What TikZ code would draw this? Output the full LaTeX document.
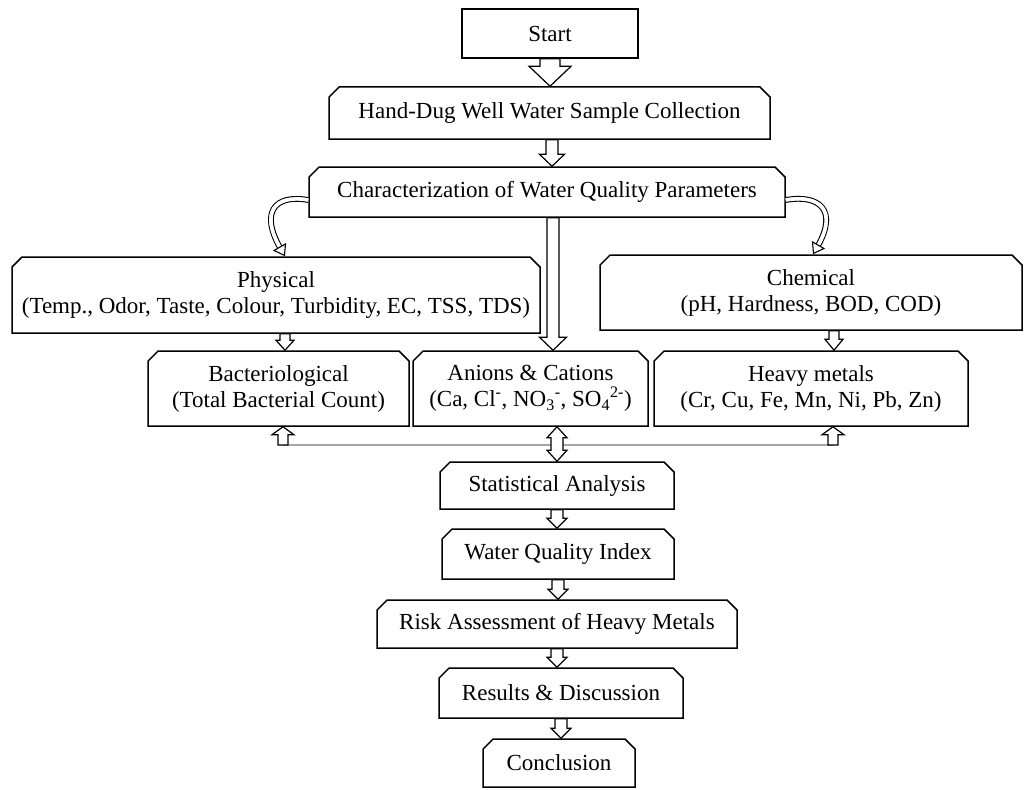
\documentclass[tikz,border=0pt]{standalone}
\usepackage{fontspec}
\setmainfont{Liberation Serif}
\usetikzlibrary{calc,shapes.misc,arrows.meta}

\tikzset{
  txt/.style={inner sep=0pt, align=center, font=\fontsize{23}{26}\selectfont},
  plain/.style={txt, draw, line width=1.5pt, rectangle},
  box/.style={txt, draw, line width=1.5pt, chamfered rectangle,
    chamfered rectangle corners={north west,north east}, chamfered rectangle xsep=7pt},
  blk/.style n args={3}{draw, fill=white, line width=1.2pt, to path={let \p1=(\tikztostart), \p2=(\tikztotarget),
    \n1={\y1>\y2 ? 1 : -1} in
    (\x1-#1,\y1) -- (\x1-#1,\y2+\n1*#3) -- (\x1-#2,\y2+\n1*#3) -- (\x1,\y2)
    -- (\x1+#2,\y2+\n1*#3) -- (\x1+#1,\y2+\n1*#3) -- (\x1+#1,\y1) -- cycle}},
  blkboth/.style n args={3}{draw, fill=white, line width=1.2pt, to path={let \p1=(\tikztostart), \p2=(\tikztotarget) in
    (\x1,\y1) -- (\x1-#2,\y1-#3) -- (\x1-#1,\y1-#3) -- (\x1-#1,\y2+#3) -- (\x1-#2,\y2+#3) -- (\x1,\y2)
    -- (\x1+#2,\y2+#3) -- (\x1+#1,\y2+#3) -- (\x1+#1,\y1-#3) -- (\x1+#2,\y1-#3) -- cycle}},
  curvy/.style={draw, line width=1.1pt, double=white, double distance=3.6pt, shorten >=9pt},
  curvyhead/.style={draw=white, line width=3pt,
    -{Triangle[length=11pt, width=15pt, color=black, fill=white, line width=1.1pt]}},
  bus/.style={draw=gray!70, line width=1.6pt}
}

\begin{document}
\begin{tikzpicture}[x=1pt,y=1pt]
\useasboundingbox (0,0) rectangle (1027,-789);
\node[plain, minimum width=176, minimum height=49] (start) at (550,-33.5) {Start};
\node[box, minimum width=441, minimum height=52] (collect) at (549.5,-113) {Hand-Dug Well Water Sample Collection};
\node[box, minimum width=476, minimum height=50] (char) at (547,-192) {Characterization of Water Quality Parameters};
\node[box, minimum width=528, minimum height=76] (phys) at (276,-295) {Physical\\(Temp., Odor, Taste, Colour, Turbidity, EC, TSS, TDS)};
\node[box, minimum width=422, minimum height=75] (chem) at (811,-292.5) {Chemical\\(pH, Hardness, BOD, COD)};
\node[box, minimum width=261, minimum height=75] (bact) at (278.5,-388.5) {Bacteriological\\(Total Bacterial Count)};
\node[box, minimum width=235, minimum height=75] (anion) at (530.5,-388.5) {Anions \& Cations\\(Ca, Cl\textsuperscript{-}, NO\textsubscript{3}\textsuperscript{-}, SO\textsubscript{4}\textsuperscript{2-})};
\node[box, minimum width=314, minimum height=75] (heavy) at (811,-388.5) {Heavy metals\\(Cr, Cu, Fe, Mn, Ni, Pb, Zn)};
\node[box, minimum width=234, minimum height=47] (stat) at (557,-485.5) {Statistical Analysis};
\node[box, minimum width=232, minimum height=50] (wqi) at (558,-554) {Water Quality Index};
\node[box, minimum width=360, minimum height=48] (risk) at (557,-624) {Risk Assessment of Heavy Metals};
\node[box, minimum width=244, minimum height=50] (res) at (561,-693) {Results \& Discussion};
\node[box, minimum width=152, minimum height=48] (concl) at (559,-763) {Conclusion};
\coordinate (busL) at (283,-445);
\coordinate (busR) at (833,-445);

\draw[blk={10pt}{21pt}{20pt}] (start.south) to (collect.north);
\draw[blk={6pt}{12.5pt}{12pt}] ([xshift=2.5pt]collect.south) to (char.north);
\draw[blk={6pt}{13.5pt}{13pt}] ([xshift=6pt]char.south) to (anion.north);
\draw[curvy] ([yshift=-8pt]char.west) to[out=170, in=120, out distance=35pt, in distance=50pt] ([xshift=9pt]phys.north);
\draw[curvyhead] ([yshift=-8pt]char.west) to[out=170, in=120, out distance=35pt, in distance=50pt] ([xshift=9pt]phys.north);
\draw[curvy] ([yshift=-8pt]char.east) to[out=10, in=60, out distance=35pt, in distance=50pt] ([xshift=2pt]chem.north);
\draw[curvyhead] ([yshift=-8pt]char.east) to[out=10, in=60, out distance=35pt, in distance=50pt] ([xshift=2pt]chem.north);
\draw[blk={5pt}{9pt}{10pt}] ([xshift=9pt]phys.south) to (bact.north);
\draw[blk={5pt}{9pt}{11pt}] ([xshift=23pt]chem.south) to (heavy.north);
\draw[bus] (busL) -- (busR);
\draw[blk={5pt}{11pt}{8pt}] (busL) to (busL |- bact.south);
\draw[blk={5pt}{11pt}{8pt}] (busR) to (busR |- heavy.south);
\draw[blkboth={6pt}{10pt}{11pt}] (anion.south -| stat.north) to (stat.north);
\draw[blk={6pt}{10pt}{10pt}] (stat.south) to (wqi.north);
\draw[blk={6pt}{10pt}{10pt}] (wqi.south) to (risk.north);
\draw[blk={6pt}{10pt}{10pt}] (risk.south) to (res.north);
\draw[blk={6pt}{10pt}{10pt}] (res.south) to (concl.north);
\end{tikzpicture}
\end{document}
